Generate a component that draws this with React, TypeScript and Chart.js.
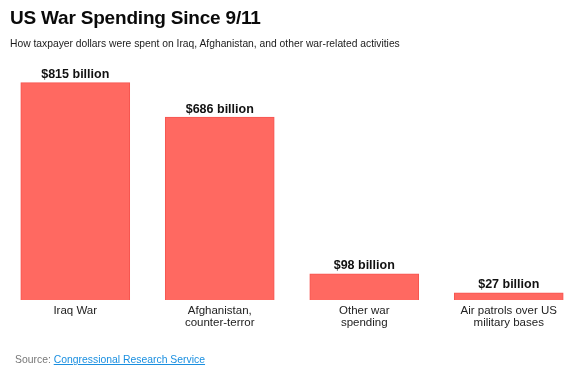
import React, { useEffect, useRef } from "react";
import { Chart, registerables } from "chart.js";

Chart.register(...registerables);

const categories: string[][] = [
  ["Iraq War"],
  ["Afghanistan,", "counter-terror"],
  ["Other war", "spending"],
  ["Air patrols over US", "military bases"],
];
const spending: number[] = [815, 686, 98, 27];
const valueLabels: string[] = ["$815 billion", "$686 billion", "$98 billion", "$27 billion"];

const FONT = "'Liberation Sans', Arial, Helvetica, sans-serif";

const valueLabelPlugin = {
  id: "valueLabels",
  afterDatasetsDraw(chart: any) {
    const ctx = chart.ctx;
    const meta = chart.getDatasetMeta(0);
    ctx.save();
    ctx.font = `bold 12.5px ${FONT}`;
    ctx.fillStyle = "#111111";
    ctx.textAlign = "center";
    ctx.textBaseline = "alphabetic";
    meta.data.forEach((bar: any, i: number) => {
      ctx.fillText(valueLabels[i], bar.x, bar.y - 4.5);
    });
    ctx.restore();
  },
};

export default function App() {
  const canvasRef = useRef<HTMLCanvasElement | null>(null);

  useEffect(() => {
    if (!canvasRef.current) return;
    const chart = new Chart(canvasRef.current, {
      type: "bar",
      data: {
        labels: categories,
        datasets: [
          {
            data: spending,
            backgroundColor: "#ff6961",
            borderColor: "#f65550",
            borderWidth: 1,
            barThickness: 109,
          },
        ],
      },
      options: {
        responsive: false,
        animation: false,
        layout: { padding: { left: 3, right: 9, top: 60, bottom: 0 } },
        plugins: {
          legend: { display: false },
          tooltip: { enabled: false },
          title: { display: false },
        },
        scales: {
          x: {
            grid: { display: false, drawTicks: false },
            border: { display: false },
            ticks: {
              color: "#222222",
              padding: 4.5,
              maxRotation: 0,
              autoSkip: false,
              font: { family: FONT, size: 11.5, lineHeight: 1.05 },
            },
            afterFit: (scale: any) => {
              scale.height = 77;
            },
          },
          y: {
            display: false,
            min: 0,
            max: 900,
          },
        },
      },
      plugins: [valueLabelPlugin],
    });
    return () => chart.destroy();
  }, []);

  return (
    <div
      style={{
        position: "fixed",
        left: 0,
        top: 0,
        width: 576,
        height: 377,
        overflow: "hidden",
        background: "#ffffff",
        fontFamily: FONT,
      }}
    >
      <canvas
        ref={canvasRef}
        width={590}
        height={377}
        style={{ position: "absolute", left: 0, top: 0, width: 590, height: 377 }}
      />
      <div
        style={{
          position: "absolute",
          left: 10,
          top: 6,
          fontSize: 19,
          lineHeight: "24px",
          fontWeight: "bold",
          color: "#0a0a0a",
          whiteSpace: "nowrap",
          letterSpacing: "-0.2px",
        }}
      >
        US War Spending Since 9/11
      </div>
      <div
        style={{
          position: "absolute",
          left: 10,
          top: 37,
          fontSize: 10.3,
          lineHeight: "14px",
          color: "#1a1a1a",
          whiteSpace: "nowrap",
        }}
      >
        How taxpayer dollars were spent on Iraq, Afghanistan, and other war-related activities
      </div>
      <div
        style={{
          position: "absolute",
          left: 15,
          top: 353,
          fontSize: 10.4,
          lineHeight: "14px",
          color: "#777777",
          whiteSpace: "nowrap",
        }}
      >
        Source:{" "}
        <a href="#" style={{ color: "#1a8fe0", textDecoration: "underline" }}>
          Congressional Research Service
        </a>
      </div>
    </div>
  );
}
